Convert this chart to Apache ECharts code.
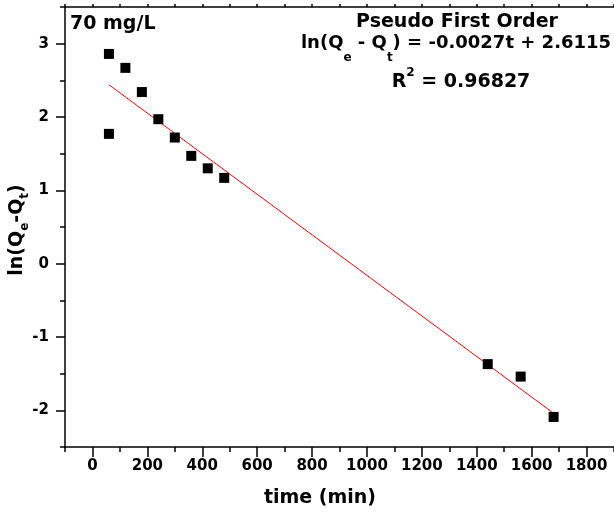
<!DOCTYPE html>
<html><head><meta charset="utf-8">
<script src="https://cdn.jsdelivr.net/npm/echarts@6/dist/echarts.min.js"></script>
<style>html,body{margin:0;padding:0;background:#fff}#c{width:614px;height:516px}</style>
</head><body><div id="c"></div>
<script>
// ---- data ----
const timeMin = [60, 60, 120, 180, 240, 300, 360, 420, 480, 1440, 1560, 1680];
const lnQeQt  = [1.77, 2.86, 2.67, 2.34, 1.97, 1.72, 1.47, 1.30, 1.17, -1.37, -1.54, -2.09];
const fitTime  = [60, 1680];
const fitValue = [2.44, -2.04];
const xTickLabels = [0, 200, 400, 600, 800, 1000, 1200, 1400, 1600, 1800];
const xMinorTicks = [-100, 100, 300, 500, 700, 900, 1100, 1300, 1500, 1700, 1900];
const xTopTicks = [-100, 0, 100, 200, 300, 400, 500, 600, 700, 800, 900, 1000, 1100, 1200, 1300, 1400, 1500, 1600, 1700, 1800, 1900];
const yTickLabels = [-2, -1, 0, 1, 2, 3];
const yMinorTicks = [-2.5, -1.5, -0.5, 0.5, 1.5, 2.5, 3.5];

const FF = '"DejaVu Sans", "Liberation Sans", sans-serif';
const axisLineStyle = { color: '#000', width: 1.5 };
const tickStyle = { color: '#000', width: 1.5 };
const xMin = -100, xMax = 1900, yMin = -2.5, yMax = 3.5;

const chart = echarts.init(document.getElementById('c'), null, { renderer: 'canvas' });
const main = { fontFamily: FF, fontWeight: 'bold', fontSize: 19, color: '#000' };
const eqMain = Object.assign({}, main, { fontSize: 18 });
const sub = Object.assign({}, main, { fontSize: 12 });

const option = {
  animation: false,
  backgroundColor: '#fff',
  grid: { left: 65, right: 0, top: 7, bottom: 69, outerBoundsMode: 'none', containLabel: false },
  xAxis: [
    { type: 'value', position: 'bottom', min: xMin, max: xMax,
      axisLine: { onZero: false, lineStyle: axisLineStyle },
      axisTick: { customValues: xTickLabels, length: 10, lineStyle: tickStyle },
      axisLabel: { customValues: xTickLabels, margin: 12, fontSize: 15, fontWeight: 'bold', fontFamily: FF, color: '#000',
                   formatter: v => String(v) },
      splitLine: { show: false } },
    { type: 'value', position: 'bottom', min: xMin, max: xMax,
      axisLine: { show: false, onZero: false },
      axisTick: { customValues: xMinorTicks, length: 5, lineStyle: tickStyle },
      axisLabel: { show: false }, splitLine: { show: false } },
    { type: 'value', position: 'top', min: xMin, max: xMax,
      axisLine: { show: true, onZero: false, lineStyle: axisLineStyle },
      axisTick: { customValues: xTopTicks, length: 3, lineStyle: tickStyle },
      axisLabel: { show: false }, splitLine: { show: false } }
  ],
  yAxis: [
    { type: 'value', position: 'left', min: yMin, max: yMax,
      axisLine: { show: true, onZero: false, lineStyle: axisLineStyle },
      axisTick: { customValues: yTickLabels, length: 9, lineStyle: tickStyle },
      axisLabel: { customValues: yTickLabels, margin: 16, fontSize: 15, fontWeight: 'bold', fontFamily: FF, color: '#000',
                   formatter: v => String(v) },
      splitLine: { show: false } },
    { type: 'value', position: 'left', min: yMin, max: yMax,
      axisLine: { show: false, onZero: false },
      axisTick: { customValues: yMinorTicks, length: 5, lineStyle: tickStyle },
      axisLabel: { show: false }, splitLine: { show: false } }
  ],
  series: [
    { type: 'line', xAxisIndex: 0, yAxisIndex: 0, data: fitTime.map((t, i) => [t, fitValue[i]]),
      showSymbol: false, symbol: 'none', lineStyle: { color: '#ff0000', width: 1 }, z: 2, silent: true },
    { type: 'scatter', xAxisIndex: 0, yAxisIndex: 0, data: timeMin.map((t, i) => [t, lnQeQt[i]]),
      symbol: 'rect', symbolSize: 10, itemStyle: { color: '#000', opacity: 1 }, z: 3 }
  ],
  graphic: [
    { type: 'text', x: 70, y: 24, style: Object.assign({ text: '70 mg/L', align: 'left', verticalAlign: 'middle' }, main) },
    { type: 'text', x: 457, y: 22, style: Object.assign({ text: 'Pseudo First Order', align: 'center', verticalAlign: 'middle' }, main) },
    { type: 'text', x: 456, y: 43, style: {
        text: '{m|ln(Q}{s|e}{m| - Q}{s|t}{m|) = -0.0027t + 2.6115}',
        align: 'center', verticalAlign: 'middle',
        rich: { m: eqMain, s: Object.assign({}, sub, { padding: [30, 0, 0, 0] }) } } },
    { type: 'text', x: 461, y: 82, style: {
        text: '{m|R}{p|2}{m| = 0.96827}',
        align: 'center', verticalAlign: 'middle',
        rich: { m: main, p: Object.assign({}, sub, { padding: [0, 0, 18, 0] }) } } },
    { type: 'text', x: 320, y: 498, style: Object.assign({ text: 'time (min)', align: 'center', verticalAlign: 'middle' }, main) },
    { type: 'text', x: 17, y: 230, rotation: Math.PI / 2, style: {
        text: '{m|ln(Q}{s|e}{m|-Q}{s|t}{m|)}',
        align: 'center', verticalAlign: 'middle',
        rich: { m: main, s: Object.assign({}, sub, { padding: [16, 0, 0, 0] }) } } }
  ]
};
chart.setOption(option);
</script>
</body></html>
